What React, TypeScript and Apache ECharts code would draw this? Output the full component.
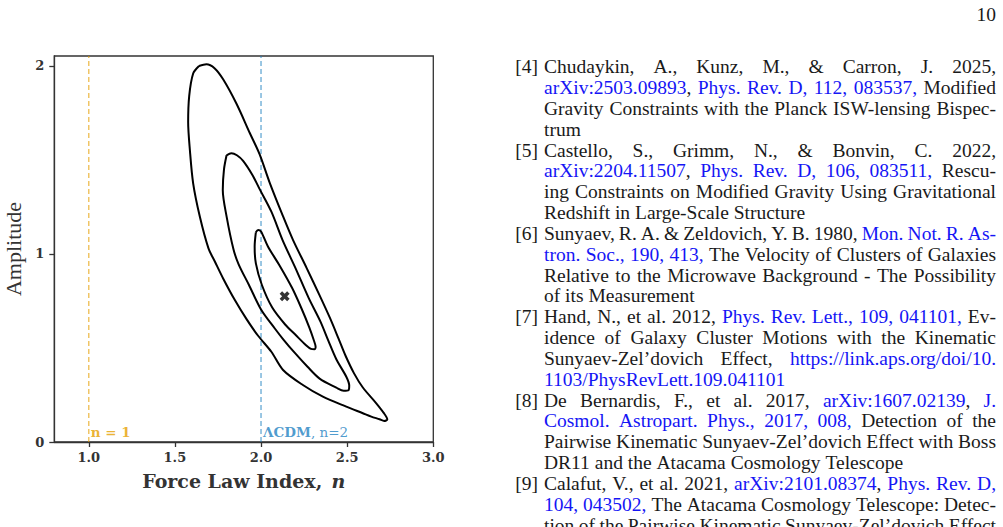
import React, { useEffect, useRef } from "react";
import * as echarts from "echarts";

// ---------- chart data ----------
const xRange = [0.8, 3.0];
const yRange = [0, 2.053];
const xTickValues = [1.0, 1.5, 2.0, 2.5, 3.0];
const yTickValues = [0, 1, 2];

// outer (3 sigma) contour: [n, amplitude]
const contourOuter: number[][] = [
  [1.64, 2.0], [1.683, 2.009], [1.73, 1.988], [1.78, 1.929], [1.857, 1.8], [1.934, 1.645],
  [1.992, 1.53], [2.05, 1.38], [2.128, 1.2], [2.186, 1.074], [2.265, 0.925], [2.34, 0.78],
  [2.4, 0.66], [2.45, 0.55], [2.49, 0.46], [2.54, 0.365], [2.591, 0.29], [2.669, 0.206],
  [2.712, 0.155], [2.733, 0.12], [2.715, 0.112], [2.688, 0.121], [2.64, 0.135], [2.591, 0.153],
  [2.495, 0.188], [2.359, 0.241], [2.243, 0.303], [2.128, 0.383], [2.06, 0.48], [1.983, 0.565],
  [1.915, 0.655], [1.848, 0.755], [1.78, 0.87], [1.732, 0.96], [1.695, 1.03], [1.645, 1.198],
  [1.606, 1.376], [1.587, 1.553], [1.577, 1.7], [1.583, 1.84], [1.606, 1.96], [1.64, 2.0]
];
// middle (2 sigma) contour
const contourMiddle: number[][] = [
  [1.8, 1.525], [1.828, 1.536], [1.86, 1.525], [1.896, 1.495], [1.95, 1.42], [1.992, 1.345],
  [2.06, 1.225], [2.125, 1.074], [2.2, 0.925], [2.277, 0.765], [2.345, 0.64], [2.39, 0.54],
  [2.437, 0.44], [2.495, 0.347], [2.512, 0.3], [2.508, 0.275], [2.48, 0.272], [2.437, 0.289],
  [2.34, 0.337], [2.27, 0.4], [2.195, 0.475], [2.13, 0.545], [2.079, 0.605], [2.0, 0.705],
  [1.93, 0.835], [1.87, 0.945], [1.84, 1.025], [1.8, 1.2], [1.778, 1.34], [1.785, 1.45], [1.8, 1.525]
];
// inner (1 sigma) contour
const contourInner: number[][] = [
  [1.97, 1.115], [1.983, 1.128], [2.0, 1.12], [2.04, 1.04], [2.11, 0.935], [2.18, 0.82],
  [2.235, 0.71], [2.28, 0.61], [2.305, 0.545], [2.317, 0.505], [2.31, 0.493], [2.29, 0.495],
  [2.263, 0.513], [2.2, 0.57], [2.14, 0.625], [2.065, 0.715], [2.005, 0.835], [1.97, 0.95],
  [1.963, 1.04], [1.97, 1.115]
];
const bestFit: number[][] = [[2.137, 0.775]];

// reference force-law indices and their labels
const refIndexN1 = 1.0;
const refIndexN2 = 2.0;
const labelN1 = "n = 1";
const labelLcdm = "ΛCDM";
const labelLcdmTail = ", n=2";
const xAxisTitle = "Force Law Index,";
const xAxisSymbol = "n";
const yAxisTitle = "Amplitude";

// ---------- page text ----------
const pageNumber = "10";
const refTags = ["[4]", "", "", "", "[5]", "", "", "", "[6]", "", "", "", "[7]", "", "", "", "[8]", "", "", "", "[9]", "", ""];
const refTexts = [
  "Chudaykin, A., Kunz, M., & Carron, J. 2025,",
  "{arXiv:2503.09893}, {Phys. Rev. D, 112, 083537,} Modified",
  "Gravity Constraints with the Planck ISW-lensing Bispec-",
  "trum",
  "Castello, S., Grimm, N., & Bonvin, C. 2022,",
  "{arXiv:2204.11507}, {Phys. Rev. D, 106, 083511,} Rescu-",
  "ing Constraints on Modified Gravity Using Gravitational",
  "Redshift in Large-Scale Structure",
  "Sunyaev, R. A. & Zeldovich, Y. B. 1980, {Mon. Not. R. As-}",
  "{tron. Soc., 190, 413,} The Velocity of Clusters of Galaxies",
  "Relative to the Microwave Background - The Possibility",
  "of its Measurement",
  "Hand, N., et al. 2012, {Phys. Rev. Lett., 109, 041101,} Ev-",
  "idence of Galaxy Cluster Motions with the Kinematic",
  "Sunyaev-Zel’dovich Effect, {https://link.aps.org/doi/10.}",
  "{1103/PhysRevLett.109.041101}",
  "De Bernardis, F., et al. 2017, {arXiv:1607.02139}, {J.}",
  "{Cosmol. Astropart. Phys., 2017, 008,} Detection of the",
  "Pairwise Kinematic Sunyaev-Zel’dovich Effect with Boss",
  "DR11 and the Atacama Cosmology Telescope",
  "Calafut, V., et al. 2021, {arXiv:2101.08374}, {Phys. Rev. D,}",
  "{104, 043502,} The Atacama Cosmology Telescope: Detec-",
  "tion of the Pairwise Kinematic Sunyaev-Zel’dovich Effect"
];
const refLastLine = [false, false, false, true, false, false, false, true, false, false, false, true, false, false, false, true, false, false, false, true, false, false, false];

// ---------- styles ----------
const INK = "#1a1a1a";
const LINK = "#1515f5";
const AXIS = "#333333";
const ORANGE = "#E69F00";
const BLUE = "#1f82c2";
const BODY_FONT = "Liberation Serif";
const PLOT_FONT = "DejaVu Serif";
const BODY_SIZE = 19.5;
const COL_LEFT = 544;
const COL_RIGHT = 996;
const TAG_RIGHT = 538;
const LINE_Y0 = 66.7;
const LINE_STEP = 20.84;

type Piece = { t: string; link: boolean };

function parseWords(text: string): Piece[][] {
  const words: Piece[][] = [];
  let cur: Piece[] = [];
  let link = false;
  const push = (ch: string) => {
    const last = cur[cur.length - 1];
    if (last && last.link === link) last.t += ch;
    else cur.push({ t: ch, link });
  };
  for (const ch of text) {
    if (ch === "{") { link = true; continue; }
    if (ch === "}") { link = false; continue; }
    if (ch === " ") {
      if (cur.length) words.push(cur);
      cur = [];
      continue;
    }
    push(ch);
  }
  if (cur.length) words.push(cur);
  return words;
}

function buildPageText(): any[] {
  const canvas = document.createElement("canvas");
  const ctx = canvas.getContext("2d") as CanvasRenderingContext2D;
  const measure = (s: string, size: number) => {
    ctx.font = `${size}px "${BODY_FONT}"`;
    return ctx.measureText(s).width;
  };
  const els: any[] = [];
  const mkText = (text: string, x: number, y: number, size: number, fill: string, align: string) => ({
    type: "text",
    x,
    y,
    silent: true,
    style: {
      text,
      fill,
      fontSize: size,
      fontFamily: BODY_FONT,
      textAlign: align,
      textVerticalAlign: "middle",
      align,
      verticalAlign: "middle"
    }
  });
  els.push(mkText(pageNumber, COL_RIGHT, 14, BODY_SIZE, INK, "right"));
  const W = COL_RIGHT - COL_LEFT;
  refTexts.forEach((line, i) => {
    const y = LINE_Y0 + i * LINE_STEP;
    if (refTags[i]) els.push(mkText(refTags[i], TAG_RIGHT, y, BODY_SIZE, INK, "right"));
    const words = parseWords(line);
    let size = BODY_SIZE;
    const wordW = (sz: number) => words.map((w) => w.reduce((a, p) => a + measure(p.t, sz), 0));
    let widths = wordW(size);
    let total = widths.reduce((a, b) => a + b, 0);
    const space = measure(" ", size);
    const justify = !refLastLine[i] && words.length > 1;
    let gap = space;
    if (justify) {
      gap = (W - total) / (words.length - 1);
      if (gap < space * 0.6) {
        size = size * W / (total + space * 0.6 * (words.length - 1));
        widths = wordW(size);
        total = widths.reduce((a, b) => a + b, 0);
        gap = (W - total) / (words.length - 1);
      }
    }
    let x = COL_LEFT;
    words.forEach((w, wi) => {
      let px = x;
      w.forEach((p) => {
        els.push(mkText(p.t, px, y, size, p.link ? LINK : INK, "left"));
        px += measure(p.t, size);
      });
      x += widths[wi] + gap;
    });
  });
  return els;
}

const contourSeries = (data: number[][]) => ({
  type: "line",
  data,
  symbol: "none",
  smooth: 0.3,
  silent: true,
  z: 4,
  lineStyle: { color: "#000", width: 2 }
});

const vLine = (n: number, color: string) => ({
  type: "line",
  data: [[n, yRange[0]], [n, yRange[1]]],
  symbol: "none",
  silent: true,
  z: 2,
  lineStyle: { color, width: 1.5, opacity: 0.6, type: [5, 3] }
});

const X_SHAPE = "path://M0,3 L3,0 L6,3 L9,0 L12,3 L9,6 L12,9 L9,12 L6,9 L3,12 L0,9 L3,6 Z";

export default function App() {
  const ref = useRef<HTMLDivElement>(null);
  useEffect(() => {
    if (!ref.current) return;
    const chart = echarts.init(ref.current, undefined, { renderer: "svg" });
    const option: any = {
      animation: false,
      backgroundColor: "#ffffff",
      grid: {
        left: 54.3,
        right: 1003 - 433.3,
        top: 56,
        bottom: 527 - 442,
        show: true,
        borderColor: AXIS,
        borderWidth: 1.3,
        backgroundColor: "transparent"
      },
      xAxis: {
        type: "value",
        min: xRange[0],
        max: xRange[1],
        splitLine: { show: false },
        axisLine: { show: true, onZero: false, lineStyle: { color: AXIS, width: 1.3 } },
        axisTick: { show: true, customValues: xTickValues, length: 5, lineStyle: { color: AXIS, width: 1.3 } },
        axisLabel: {
          customValues: xTickValues,
          formatter: (v: number) => v.toFixed(1),
          fontFamily: PLOT_FONT,
          fontWeight: "bold",
          fontSize: 13,
          color: AXIS,
          margin: 9
        },
        name: `{b|${xAxisTitle}} {i|${xAxisSymbol}}`,
        nameLocation: "middle",
        nameGap: 29,
        nameTextStyle: {
          rich: {
            b: { fontFamily: PLOT_FONT, fontWeight: "bold", fontSize: 19, color: AXIS },
            i: { fontFamily: PLOT_FONT, fontWeight: "bold", fontStyle: "italic", fontSize: 19, color: AXIS, padding: [0, 0, 0, 6] }
          }
        }
      },
      yAxis: {
        type: "value",
        min: yRange[0],
        max: yRange[1],
        splitLine: { show: false },
        axisLine: { show: true, onZero: false, lineStyle: { color: AXIS, width: 1.3 } },
        axisTick: { show: true, customValues: yTickValues, length: 5, lineStyle: { color: AXIS, width: 1.3 } },
        axisLabel: {
          customValues: yTickValues,
          formatter: (v: number) => String(v),
          fontFamily: PLOT_FONT,
          fontWeight: "bold",
          fontSize: 13,
          color: AXIS,
          margin: 10
        },
        name: yAxisTitle,
        nameLocation: "middle",
        nameGap: 30,
        nameTextStyle: { fontFamily: BODY_FONT, fontSize: 22, color: AXIS }
      },
      series: [
        vLine(refIndexN1, ORANGE),
        vLine(refIndexN2, BLUE),
        contourSeries(contourOuter),
        contourSeries(contourMiddle),
        contourSeries(contourInner),
        {
          type: "scatter",
          data: bestFit,
          symbol: X_SHAPE,
          symbolSize: 10,
          itemStyle: { color: "#000" },
          silent: true,
          z: 5
        },
        {
          type: "scatter",
          data: [[refIndexN1, 0.053]],
          symbolSize: 0,
          silent: true,
          label: {
            show: true,
            position: "right",
            distance: 2,
            formatter: labelN1,
            fontFamily: PLOT_FONT,
            fontWeight: "bold",
            fontSize: 13.5,
            color: ORANGE
          }
        },
        {
          type: "scatter",
          data: [[refIndexN2, 0.053]],
          symbolSize: 0,
          silent: true,
          label: {
            show: true,
            position: "right",
            distance: 2,
            formatter: `{b|${labelLcdm}}{r|${labelLcdmTail}}`,
            rich: {
              b: { fontFamily: PLOT_FONT, fontWeight: "bold", fontSize: 13.5, color: BLUE },
              r: { fontFamily: PLOT_FONT, fontSize: 13.5, color: BLUE }
            }
          }
        }
      ],
      graphic: buildPageText()
    };
    chart.setOption(option);
    return () => chart.dispose();
  }, []);
  return (
    <div
      ref={ref}
      style={{ position: "fixed", left: 0, top: 0, width: 1003, height: 527, background: "#fff" }}
    />
  );
}
